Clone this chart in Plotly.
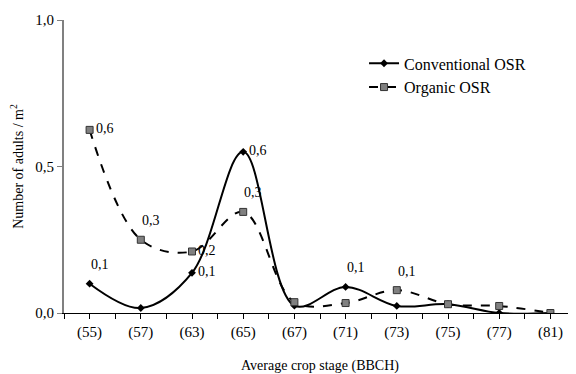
import plotly.graph_objects as go

categories = ["(55)", "(57)", "(63)", "(65)", "(67)", "(71)", "(73)", "(75)", "(77)", "(81)"]
conventional = [0.10, 0.017, 0.137, 0.55, 0.025, 0.089, 0.024, 0.030, 0.0, 0.0]
organic = [0.625, 0.25, 0.21, 0.345, 0.037, 0.034, 0.078, 0.030, 0.024, 0.0]
conv_labels = ["0,1", "", "0,1", "0,6", "", "0,1", "", "", "", ""]
org_labels = ["0,6", "0,3", "0,2", "0,3", "", "", "0,1", "", "", ""]
y_ticks = [0.0, 0.5, 1.0]
y_ticktext = ["0,0", "0,5", "1,0"]

# label placement (styling): 'r' = right of marker, 't' = above marker
conv_pos = ["t", "", "r", "r", "", "t", "", "", "", ""]
org_pos = ["r", "t", "r", "t", "", "", "t", "", "", ""]

FONT = "'Liberation Serif', 'Times New Roman', Times, serif"
xs = list(range(len(categories)))

fig = go.Figure()
fig.add_trace(go.Scatter(
    x=xs, y=conventional, name="Conventional OSR", mode="lines+markers",
    line=dict(color="black", width=2, shape="spline", smoothing=1.0),
    marker=dict(symbol="diamond", size=6, color="black"),
))
fig.add_trace(go.Scatter(
    x=xs, y=organic, name="Organic OSR", mode="lines+markers",
    line=dict(color="black", width=2, dash="dash", shape="spline", smoothing=1.0),
    marker=dict(symbol="square", size=7, color="#808080", line=dict(color="#333333", width=1)),
))

annotations = []
for vals, labels, pos in [(conventional, conv_labels, conv_pos), (organic, org_labels, org_pos)]:
    for i, (v, t, p) in enumerate(zip(vals, labels, pos)):
        if not t:
            continue
        if p == "r":
            annotations.append(dict(x=i, y=v, text=t, showarrow=False, xanchor="left",
                                    yanchor="middle", xshift=4, yshift=1,
                                    font=dict(family=FONT, size=14, color="black")))
        else:
            annotations.append(dict(x=i, y=v, text=t, showarrow=False, xanchor="center",
                                    yanchor="middle", xshift=10, yshift=19,
                                    font=dict(family=FONT, size=14, color="black")))

tickvals = [i * 0.5 - 0.5 for i in range(2 * len(categories) + 1)]
ticktext = []
for tv in tickvals:
    if tv == int(tv) and 0 <= int(tv) < len(categories):
        ticktext.append(categories[int(tv)])
    else:
        ticktext.append("")

# page body has an 8px margin, so the figure is shrunk by 8px on each axis
fig.update_layout(
    width=568, height=366,
    margin=dict(l=56, r=0, t=12, b=61),
    paper_bgcolor="white", plot_bgcolor="white",
    font=dict(family=FONT, size=14, color="black"),
    showlegend=True,
    legend=dict(x=0.586, y=0.91, xanchor="left", yanchor="top",
                font=dict(family=FONT, size=16, color="black"),
                bgcolor="rgba(0,0,0,0)", itemwidth=30),
    annotations=annotations,
    xaxis=dict(
        range=[-0.5, len(categories) - 0.5], tickmode="array",
        tickvals=tickvals, ticktext=ticktext, ticks="outside", ticklen=5,
        tickcolor="black", showline=True, linecolor="black", linewidth=1,
        showgrid=False, zeroline=False,
        tickfont=dict(family=FONT, size=15, color="black"),
        title=dict(text="Average crop stage (BBCH)", standoff=21,
                   font=dict(family=FONT, size=14, color="black")),
    ),
    yaxis=dict(
        range=[0, 1.0], tickmode="array", tickvals=y_ticks, ticktext=y_ticktext,
        ticks="outside", ticklen=5, tickcolor="#808080",
        showline=True, linecolor="#808080", linewidth=2,
        showgrid=False, zeroline=False,
        tickfont=dict(family=FONT, size=15, color="black"),
        title=dict(text="Number of adults / m<sup>2</sup>", standoff=8,
                   font=dict(family=FONT, size=14, color="black")),
    ),
)

fig.write_html("out.html")
